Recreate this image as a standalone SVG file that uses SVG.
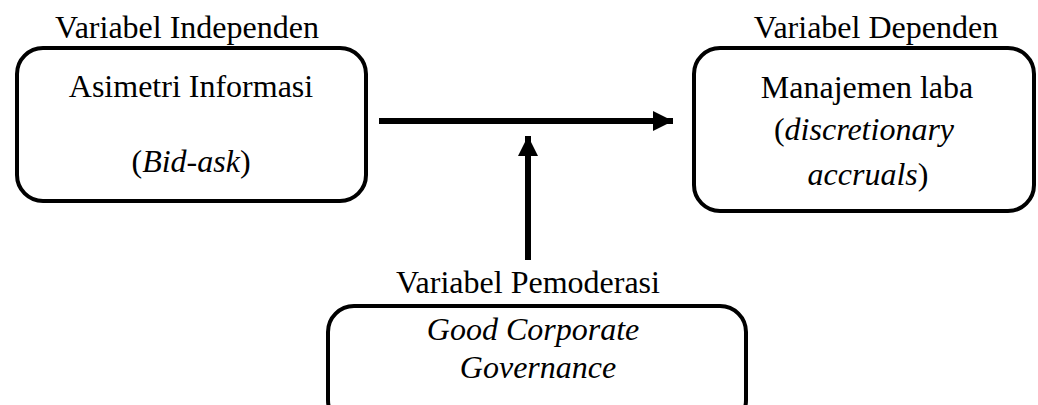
<svg xmlns="http://www.w3.org/2000/svg" width="1038" height="405" viewBox="0 0 1038 405">
  <style>
    .box { fill: #ffffff; stroke: #000000; stroke-width: 4; }
    .t { font-family: "Liberation Serif", "Times New Roman", serif; font-size: 32px; fill: #000000; text-anchor: middle; }
    .i { font-style: italic; }
    .edge { stroke: #000000; stroke-width: 6; fill: none; }
  </style>
  <defs>
    <marker id="head" markerUnits="userSpaceOnUse" markerWidth="22" markerHeight="22" refX="20" refY="10" orient="auto">
      <path d="M0,0 L20,10 L0,20 Z" fill="#000000"/>
    </marker>
  </defs>
  <rect width="1038" height="405" fill="#ffffff"/>

  <!-- independent variable -->
  <g id="node-independen">
    <text class="t" x="187" y="38">Variabel Independen</text>
    <rect class="box" x="17" y="48" width="349" height="153" rx="26" ry="26"/>
    <text class="t" x="191" y="97">Asimetri Informasi</text>
    <text class="t" x="191" y="172">(<tspan class="i">Bid-ask</tspan>)</text>
  </g>

  <!-- dependent variable -->
  <g id="node-dependen">
    <text class="t" x="876" y="38">Variabel Dependen</text>
    <rect class="box" x="694" y="48" width="340" height="163" rx="26" ry="26"/>
    <text class="t" x="867" y="98">Manajemen laba</text>
    <text class="t" x="864" y="140">(<tspan class="i">discretionary</tspan></text>
    <text class="t" x="868" y="185"><tspan class="i">accruals</tspan>)</text>
  </g>

  <!-- moderating variable -->
  <g id="node-pemoderasi">
    <text class="t" x="528" y="293">Variabel Pemoderasi</text>
    <rect class="box" x="328" y="306" width="418" height="120" rx="26" ry="26"/>
    <text class="t i" x="533" y="340">Good Corporate</text>
    <text class="t i" x="538" y="378">Governance</text>
  </g>

  <!-- connectors -->
  <g id="connectors">
    <line class="edge" x1="379" y1="121" x2="673" y2="121" marker-end="url(#head)"/>
    <line class="edge" x1="528" y1="260" x2="528" y2="136" marker-end="url(#head)"/>
  </g>
</svg>
